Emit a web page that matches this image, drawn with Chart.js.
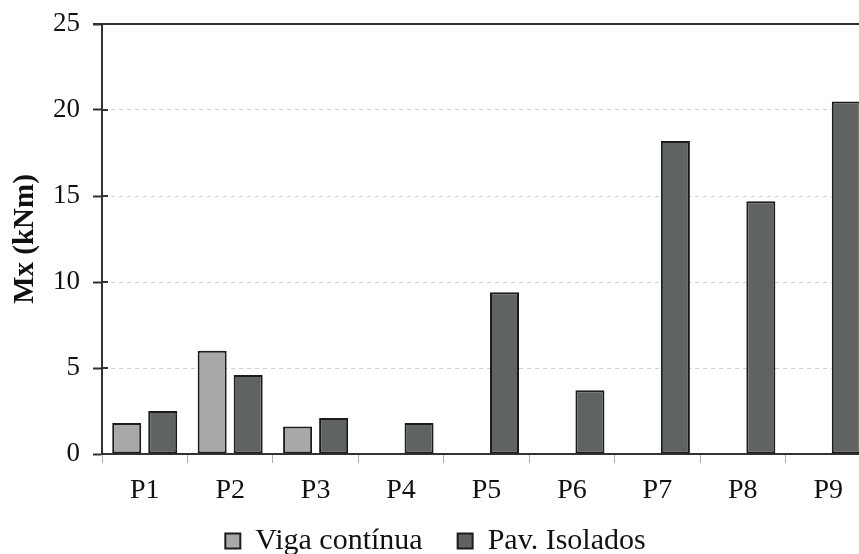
<!DOCTYPE html>
<html lang="pt-br">
<head>
<meta charset="UTF-8">
<title>Mx (kNm)</title>
<script src="https://cdn.jsdelivr.net/npm/chart.js"></script>
<style>
    html, body { margin: 0; padding: 0; background: #fff; overflow: hidden; }
    #box { width: 890px; height: 566px; }
</style>
</head>
<body>
<div id="box"><canvas id="grafico"></canvas></div>
<script>
    // dados
    var pilares = ['P1', 'P2', 'P3', 'P4', 'P5', 'P6', 'P7', 'P8', 'P9'];
    var vigaContinua = [1.8, 6.0, 1.6, 0, 0, 0, 0, 0, 0];
    var pavIsolados = [2.5, 4.6, 2.1, 1.8, 9.4, 3.7, 18.2, 14.7, 20.5];
    var ticksY = [0, 5, 10, 15, 20, 25];

    var fonte = "'Liberation Serif', 'Times New Roman', serif";

    // linha de cima e os tracinhos do eixo y pra dentro
    var moldura = {
        id: 'moldura',
        afterLayout: function (chart) {
            // deixa os rotulos do eixo x passarem da caixa dele (senao sao cortados)
            chart.scales.x.bottom = chart.height;
        },
        afterDraw: function (chart) {
            var ctx = chart.ctx;
            var area = chart.chartArea;
            var y = chart.scales.y;
            ctx.save();
            ctx.strokeStyle = '#333';
            ctx.lineWidth = 2;
            ctx.beginPath();
            ctx.moveTo(area.left - 9, area.top);
            ctx.lineTo(area.right, area.top);
            ctx.stroke();
            ctx.beginPath();
            for (var i = 0; i < ticksY.length; i++) {
                var py = y.getPixelForValue(ticksY[i]);
                ctx.moveTo(area.left, py);
                ctx.lineTo(area.left + 6, py);
            }
            ctx.stroke();
            ctx.restore();
        }
    };

    new Chart(document.getElementById('grafico'), {
        type: 'bar',
        data: {
            labels: pilares,
            datasets: [{
                label: 'Viga contínua',
                data: vigaContinua,
                backgroundColor: '#a7a9a9',
                borderColor: '#1c1c1c',
                borderWidth: 2,
                borderSkipped: false
            }, {
                label: 'Pav. Isolados',
                data: pavIsolados,
                backgroundColor: '#5f6462',
                borderColor: '#1c1c1c',
                borderWidth: 2,
                borderSkipped: false
            }]
        },
        options: {
            responsive: true,
            maintainAspectRatio: false,
            animation: false,
            layout: { padding: { top: 0, right: 19, left: 0, bottom: 0 } },
            datasets: { bar: { categoryPercentage: 0.843, barPercentage: 0.806 } },
            plugins: {
                tooltip: { enabled: false },
                legend: {
                    position: 'bottom',
                    labels: {
                        boxWidth: 15,
                        boxHeight: 15,
                        padding: 35,
                        color: '#111',
                        font: { family: fonte, size: 30 }
                    }
                }
            },
            scales: {
                x: {
                    afterFit: function (s) { s.height = 37; },
                    grid: { display: true, drawOnChartArea: false, tickLength: 9, color: '#aaa', offset: true },
                    border: { color: '#333', width: 2 },
                    ticks: { color: '#111', padding: 11, font: { family: fonte, size: 28 } }
                },
                y: {
                    min: 0,
                    max: 25,
                    afterFit: function (s) { s.width = 102; s.paddingTop = 24; },
                    afterBuildTicks: function (s) { s.ticks = ticksY.map(function (v) { return { value: v }; }); },
                    grid: { color: '#d0d0d0', lineWidth: 1, tickLength: 9, tickColor: '#333', tickWidth: 2 },
                    border: { color: '#333', width: 2, dash: [4, 4] },
                    ticks: { color: '#111', padding: 13, font: { family: fonte, size: 27 } },
                    title: {
                        display: true,
                        text: 'Mx (kNm)',
                        color: '#111',
                        padding: { top: 8, bottom: 0 },
                        font: { family: fonte, size: 29, weight: 'bold' }
                    }
                }
            }
        },
        plugins: [moldura]
    });
</script>
</body>
</html>
